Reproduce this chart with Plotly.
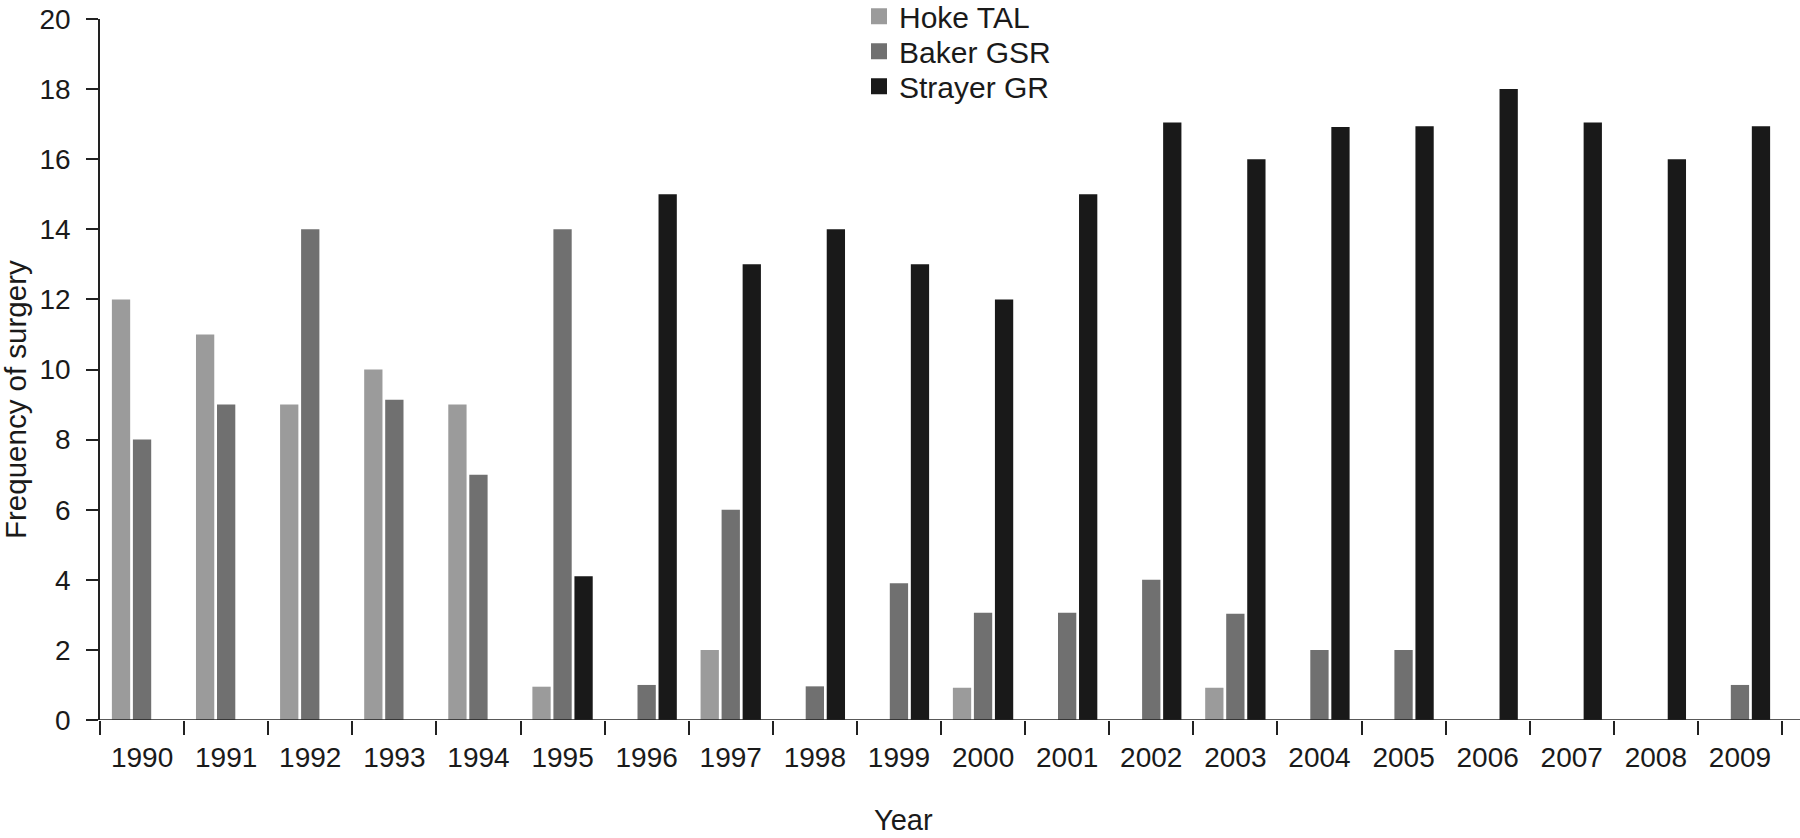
import plotly.graph_objects as go

years = [str(y) for y in range(1990, 2010)]
hoke_tal = [12, 11, 9, 10, 9, 0.95, 0, 2, 0, 0, 0.92, 0, 0, 0.92, 0, 0, 0, 0, 0, 0]
baker_gsr = [8, 9, 14, 9.14, 7, 14, 1, 6, 0.96, 3.9, 3.06, 3.06, 4, 3.03, 2, 2, 0, 0, 0, 1]
strayer_gr = [0, 0, 0, 0, 0, 4.1, 15, 13, 14, 13, 12, 15, 17.05, 16, 16.92, 16.94, 18, 17.05, 16, 16.94]

series_names = ["Hoke TAL", "Baker GSR", "Strayer GR"]
series_values = [hoke_tal, baker_gsr, strayer_gr]
colors = ["#9b9b9b", "#707070", "#191919"]

W, H = 1800, 838
ML, MR, MT, MB = 100, 18, 19, 118
FONT = "Liberation Sans, Arial, Helvetica, sans-serif"
pw = W - ML - MR
ph = H - MT - MB


def px_x(x):
    return (x - ML) / pw


def px_y(y):
    return (H - MB - y) / ph


fig = go.Figure()
for name, vals, col in zip(series_names, series_values, colors):
    fig.add_trace(go.Bar(
        x=years, y=vals, name=name, showlegend=False,
        marker=dict(color=col, line=dict(width=0)),
    ))

# legend entries (one legend per row so rows can be spaced like the original)
legend_ids = ["legend", "legend2", "legend3"]
row_centers = [17, 52, 87]
legend_layout = {}
for name, col, lid, rc in zip(series_names, colors, legend_ids, row_centers):
    fig.add_trace(go.Scatter(
        x=[None], y=[None], mode="markers", name=name, legend=lid,
        marker=dict(symbol="square", size=16, color=col),
    ))
    legend_layout[lid] = dict(
        x=px_x(859), y=px_y(rc - 26.7), xanchor="left", yanchor="top",
        font=dict(size=30, color="#1a1a1a"), bgcolor="rgba(0,0,0,0)",
        itemwidth=30,
    )

fig.add_shape(type="line", xref="paper", yref="y",
              x0=-10 / pw, x1=(W - ML) / pw, y0=0, y1=0,
              line=dict(color="#222222", width=1.6), layer="above")

fig.update_layout(
    width=W, height=H,
    margin=dict(l=ML, r=MR, t=MT, b=MB, autoexpand=False),
    paper_bgcolor="white", plot_bgcolor="white",
    barmode="group", bargap=0.25, bargroupgap=0.13,
    font=dict(family=FONT, size=28, color="#1a1a1a"),
    xaxis=dict(
        type="category", tickson="boundaries", ticks="outside", ticklen=14,
        tickwidth=1.6, tickcolor="#222222", showline=False, showgrid=False,
        zeroline=False, tickfont=dict(size=28), ticklabelstandoff=18,
    ),
    yaxis=dict(
        range=[0, 20], dtick=2, ticks="outside", ticklen=12, tickwidth=1.6,
        tickcolor="#222222", showline=True, linecolor="#222222", linewidth=1.6,
        showgrid=False, zeroline=False, tickfont=dict(size=28),
        ticklabelstandoff=10,
    ),
    annotations=[
        dict(text="Year", x=px_x(903), y=px_y(820), xref="paper", yref="paper",
             xanchor="center", yanchor="middle",
             showarrow=False, font=dict(size=29)),
        dict(text="Frequency of surgery", x=px_x(16), y=px_y(400),
             xref="paper", yref="paper", xanchor="center", yanchor="middle",
             showarrow=False, textangle=-90, font=dict(size=29.5)),
    ],
    **legend_layout,
)

fig.write_html("out.html", config={"displayModeBar": False},
               post_script="document.body.style.margin='0';")
